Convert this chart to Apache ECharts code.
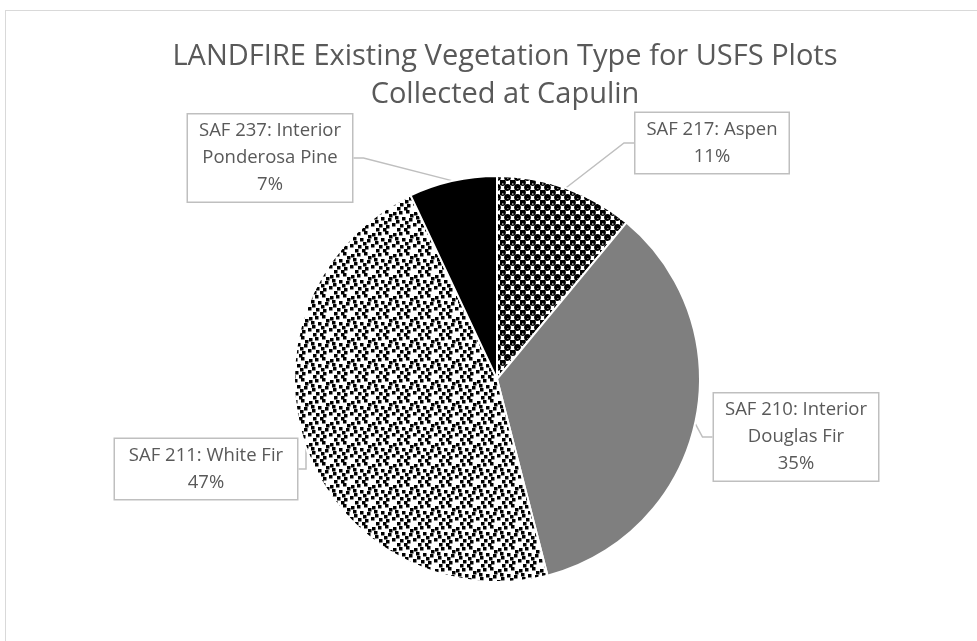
<!DOCTYPE html>
<html>
<head>
<meta charset="utf-8">
<script src="https://cdn.jsdelivr.net/npm/echarts@6/dist/echarts.min.js"></script>
<style>
  html, body { margin: 0; padding: 0; background: #fff; overflow: hidden; }
  #frame { position: absolute; left: 5px; top: 10px; width: 1000px; height: 700px; border: 1px solid #d9d9d9; }
  #main { position: absolute; left: 0; top: 0; width: 977px; height: 641px; }
</style>
</head>
<body>
<div id="frame"></div>
<div id="main"></div>
<script>
// data
const categories = ['SAF 217: Aspen', 'SAF 210: Interior Douglas Fir', 'SAF 211: White Fir', 'SAF 237: Interior Ponderosa Pine'];
const labelTexts = ['SAF 217: Aspen', 'SAF 210: Interior\nDouglas Fir', 'SAF 211: White Fir', 'SAF 237: Interior\nPonderosa Pine'];
const percents = [11, 35, 47, 7];

// callout boxes: centre x, centre y, width
const labelBoxes = [[712, 143, 153], [796, 437, 164], [206, 469, 182], [270, 158, 164]];

// fill patterns
function spherePattern() {
  const c = document.createElement('canvas');
  c.width = 10; c.height = 10;
  const g = c.getContext('2d');
  g.fillStyle = '#fff';
  g.fillRect(0, 0, 10, 10);
  const dots = [[2.5, 2.5], [7.5, 7.5], [-2.5, 7.5], [12.5, 7.5], [7.5, -2.5], [7.5, 12.5]];
  dots.forEach(d => {
    g.fillStyle = '#000';
    g.beginPath(); g.arc(d[0], d[1], 3.4, 0, Math.PI * 2); g.fill();
    g.fillStyle = '#fff';
    g.fillRect(d[0] - 0.5, d[1] + 1, 1.5, 1);
  });
  return c;
}
function confettiPattern() {
  const n = 21;
  const c = document.createElement('canvas');
  c.width = n; c.height = n;
  const g = c.getContext('2d');
  g.fillStyle = '#fff';
  g.fillRect(0, 0, n, n);
  g.fillStyle = '#000';
  const sq = [[0, 1], [7, 0], [15, 2], [11, 4], [3, 7], [10, 8], [17, 6], [6, 11], [18, 10],
    [1, 14], [8, 15], [14, 13], [19, 18], [5, 18]];
  sq.forEach(s => {
    for (let dx = -n; dx <= n; dx += n) {
      for (let dy = -n; dy <= n; dy += n) {
        g.fillRect(s[0] + dx, s[1] + dy, 3.5, 3.5);
      }
    }
  });
  return c;
}

const fills = [
  { image: spherePattern(), repeat: 'repeat' },
  '#7f7f7f',
  { image: confettiPattern(), repeat: 'repeat' },
  '#000000'
];

const chart = echarts.init(document.getElementById('main'));
chart.setOption({
  animation: false,
  title: {
    text: 'LANDFIRE Existing Vegetation Type for USFS Plots\nCollected at Capulin',
    left: 500, top: 33, textAlign: 'center',
    textStyle: { fontFamily: 'Open Sans', fontWeight: 'normal', fontSize: 29, lineHeight: 38, color: '#595959' }
  },
  series: [{
    type: 'pie',
    center: [497, 379],
    radius: 203,
    startAngle: 90,
    clockwise: true,
    data: categories.map((n, i) => ({
      name: n, value: percents[i],
      itemStyle: { color: fills[i] },
      label: { formatter: labelTexts[i] + '\n' + percents[i] + '%', width: labelBoxes[i][2] - 10 }
    })),
    itemStyle: { borderColor: '#fff', borderWidth: 2 },
    label: {
      show: true,
      position: 'outside',
      fontFamily: 'Open Sans',
      fontSize: 18.5,
      lineHeight: 27,
      color: '#595959',
      backgroundColor: '#fff',
      borderColor: '#bfbfbf',
      borderWidth: 1.5,
      padding: [3, 5, 3, 5],
      overflow: 'none',
      align: 'center'
    },
    labelLine: { show: true, length: 10, length2: 10, lineStyle: { color: '#bfbfbf', width: 1.5 } },
    labelLayout: function (p) {
      const s = labelBoxes[p.dataIndex];
      return { x: s[0], y: s[1], align: 'center', verticalAlign: 'middle' };
    }
  }]
});
</script>
</body>
</html>
